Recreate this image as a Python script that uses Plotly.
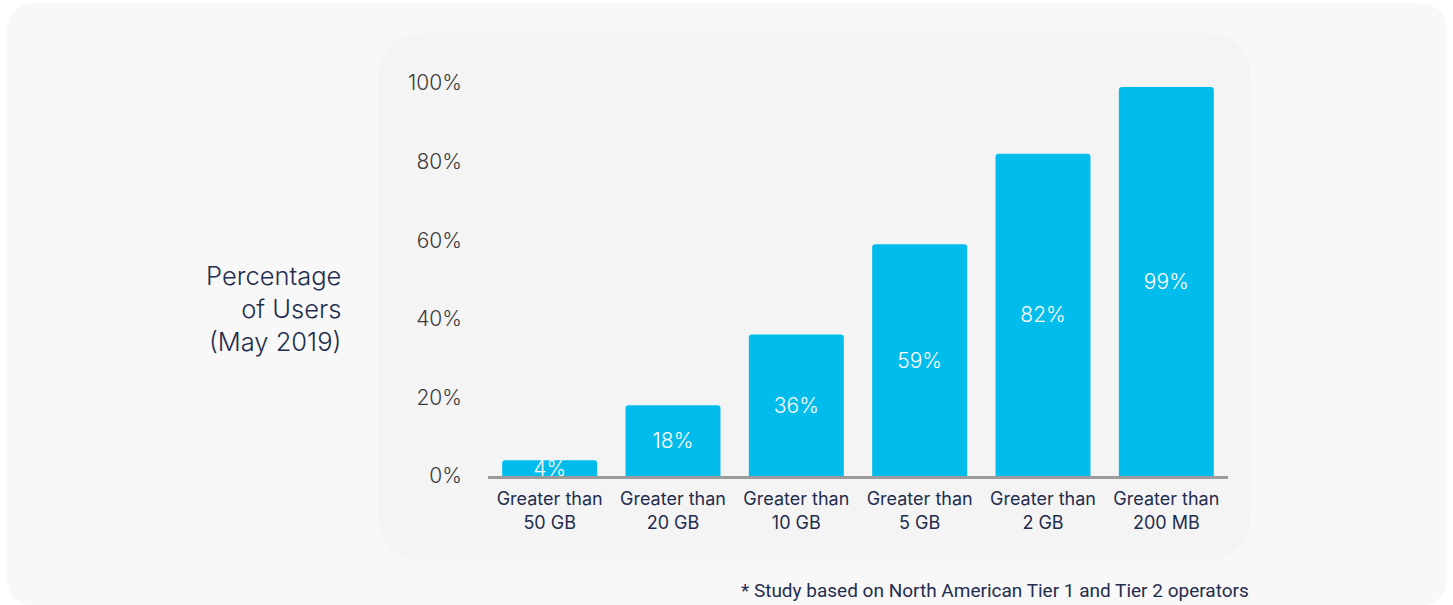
import plotly.graph_objects as go

# ── Data ──────────────────────────────────────────────────────────────────────
categories = ["Greater than<br>50 GB", "Greater than<br>20 GB", "Greater than<br>10 GB",
              "Greater than<br>5 GB", "Greater than<br>2 GB", "Greater than<br>200 MB"]
pct_users = [4, 18, 36, 59, 82, 99]
y_ticks = [0, 20, 40, 60, 80, 100]
y_title = "Percentage<br>of Users<br>(May 2019)"
footnote = "* Study based on North American Tier 1 and Tier 2 operators"

# ── Layout constants (pixels) ─────────────────────────────────────────────────
W, H = 1453, 605
M_L, M_R, M_T, M_B = 488, 225, 83, 129
PW, PH = W - M_L - M_R, H - M_T - M_B

_BAR = "#02bdeb"
_NAVY = "#1f2d4e"
_FONT = "Inter, Roboto, sans-serif"


def px_x(x):
    return (x - M_L) / PW


def px_y(y):
    return (H - M_B - y) / PH


def rounded_rect(x0, y0, x1, y1, r):
    """SVG path of a rounded rectangle in paper coords, from pixel box."""
    rx, ry = r / PW, r / PH
    a, b, c, d = px_x(x0), px_y(y1), px_x(x1), px_y(y0)  # left, bottom, right, top
    return (f"M{a+rx},{d} L{c-rx},{d} Q{c},{d} {c},{d-ry} "
            f"L{c},{b+ry} Q{c},{b} {c-rx},{b} "
            f"L{a+rx},{b} Q{a},{b} {a},{b+ry} "
            f"L{a},{d-ry} Q{a},{d} {a+rx},{d} Z")


fig = go.Figure(go.Bar(
    x=categories, y=pct_users,
    marker=dict(color=_BAR, cornerradius=3, line=dict(width=0)),
    text=[f"{v}%" for v in pct_users],
    textposition="inside", insidetextanchor="middle",
    textfont=dict(color="white", size=21, family=_FONT, weight=300),
    textangle=0, cliponaxis=False,
    hoverinfo="skip",
))

fig.update_layout(
    width=W, height=H,
    margin=dict(l=M_L, r=M_R, t=M_T, b=M_B, autoexpand=False),
    paper_bgcolor="white", plot_bgcolor="rgba(0,0,0,0)",
    bargap=0.23, showlegend=False,
    uniformtext=dict(minsize=21, mode="show"),
    font=dict(family=_FONT, color=_NAVY),
    shapes=[
        dict(type="path", xref="paper", yref="paper", layer="below",
             path=rounded_rect(7, 3, 1447, 606, 30),
             fillcolor="#f8f8f8", line=dict(width=0)),
        dict(type="path", xref="paper", yref="paper", layer="below",
             path=rounded_rect(378, 33, 1251, 561, 50),
             fillcolor="#f4f4f4", line=dict(width=0)),
    ],
    annotations=[
        dict(text=y_title, xref="paper", yref="paper", x=px_x(343), y=px_y(308),
             xanchor="right", yanchor="middle", align="right", showarrow=False,
             font=dict(size=25.5, color=_NAVY, family=_FONT, weight=300)),
        dict(text=footnote, xref="paper", yref="paper", x=px_x(1251), y=px_y(590),
             xanchor="right", yanchor="middle", showarrow=False,
             font=dict(size=19, color=_NAVY, family="Liberation Sans Narrow, Roboto, sans-serif")),
    ],
)

fig.update_xaxes(
    range=[-0.5, 5.5], showgrid=False, zeroline=False,
    showline=True, linecolor="#9b9b9b", linewidth=2.5,
    ticks="", ticklabelstandoff=5,
    tickfont=dict(size=18, color=_NAVY, family=_FONT),
    fixedrange=True,
)
fig.update_yaxes(
    range=[0, 100], showgrid=False, zeroline=False, showline=False,
    tickvals=y_ticks, ticktext=[f"{t}%" for t in y_ticks],
    ticks="", ticklabelstandoff=25,
    tickfont=dict(size=21, color="#3c3c3c", family=_FONT, weight=300),
    fixedrange=True,
)

fig.write_html("out.html", config={"displayModeBar": False},
               post_script="document.body.style.margin='0';")
